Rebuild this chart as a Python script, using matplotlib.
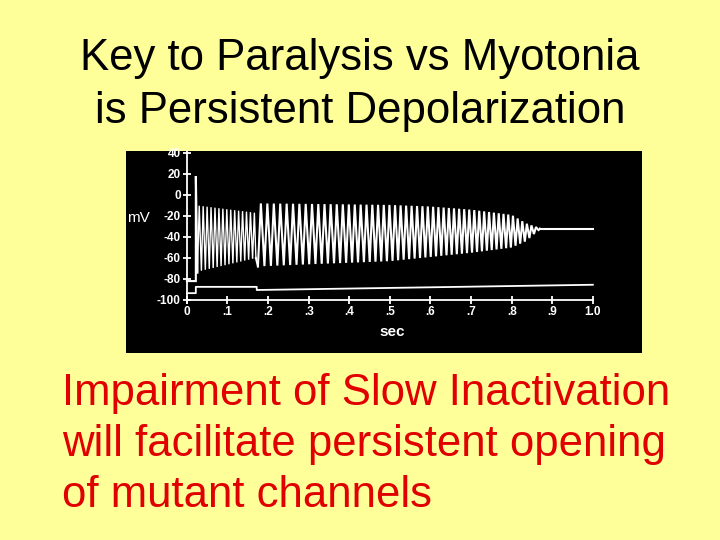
"""Slide: voltage trace of a myotonic fibre drifting into persistent depolarization."""

import matplotlib.pyplot as plt
import numpy as np

plt.rcParams["font.family"] = ["Liberation Sans", "DejaVu Sans"]

BG = "#FFFF99"
RED = "#E00000"

title_lines = ["Key to Paralysis vs Myotonia", "is Persistent Depolarization"]
note_lines = ["Impairment of Slow Inactivation",
              "will facilitate persistent opening",
              "of mutant channels"]

# membrane potential (mV) vs time (sec)
onset_t = [0.0, 0.022, 0.022, 0.026]
onset_v = [-82, -82, 18, -74]

# first burst: fast, small spikes riding on a rising floor
ph1_t = [0.026, 0.17]
ph1_top = [-10, -17]
ph1_bot = [-73, -60]
ph1_period = 0.0097

# second burst: larger spikes that shrink and collapse to a plateau
ph2_t = [0.175, 0.3, 0.5, 0.6, 0.7, 0.8, 0.835, 0.87]
ph2_top = [-8, -8.5, -9.5, -11, -14, -19, -27, -32]
ph2_bot = [-68, -66, -63, -59, -55, -50, -44, -32]
ph2_per_t = [0.175, 0.3, 0.5, 0.7, 0.87]
ph2_per = [0.0160, 0.0155, 0.0138, 0.0123, 0.0110]

tail_t = [0.87, 1.0]
tail_v = [-32, -32]

# stimulus monitor trace
stim_t = [0.0, 0.022, 0.022, 0.172, 0.172, 1.0]
stim_v = [-93.5, -93.5, -87.5, -87.5, -90.5, -85.5]

yticks = [40, 20, 0, -20, -40, -60, -80, -100]
xticks = [0, .1, .2, .3, .4, .5, .6, .7, .8, .9, 1.0]
xlabels = ["0", ".1", ".2", ".3", ".4", ".5", ".6", ".7", ".8", ".9", "1.0"]


def burst(t_knots, top, bot, per_t, per, t_end):
    ts, vs = [], []
    t = t_knots[0]
    while t < t_end:
        p = np.interp(t, per_t, per)
        ts += [t, t + 0.45 * p]
        vs += [np.interp(t, t_knots, bot), np.interp(t + 0.45 * p, t_knots, top)]
        t += p
    ts.append(t_end)
    vs.append(np.interp(t_end, t_knots, bot))
    return ts, vs


fig = plt.figure(figsize=(7.2, 5.4), dpi=100, facecolor=BG)

for i, line in enumerate(title_lines):
    fig.text(0.5, 1 - (70 + 53 * i) / 540, line, ha="center", va="baseline",
             fontsize=31.5, color="black")
for i, line in enumerate(note_lines):
    fig.text(62 / 720, 1 - (405 + 51 * i) / 540, line, ha="left", va="baseline",
             fontsize=31.5, color=RED)

ax = fig.add_axes([126 / 720, 1 - 353 / 540, 516 / 720, 202 / 540])
ax.set_facecolor("black")
ax.set_xlim(-0.150, 1.121)
ax.set_ylim(-150.5, 41.9)

for s in ["top", "right"]:
    ax.spines[s].set_visible(False)
ax.spines["left"].set_position(("data", 0))
ax.spines["left"].set_bounds(-103, 42)
ax.spines["bottom"].set_position(("data", -100))
ax.spines["bottom"].set_bounds(0, 1.0)
for s in ["left", "bottom"]:
    ax.spines[s].set_color("white")
    ax.spines[s].set_linewidth(1.3)

ax.set_yticks(yticks)
ax.set_yticklabels([str(v) for v in yticks])
ax.set_xticks(xticks)
ax.set_xticklabels(xlabels)
ax.tick_params(colors="white", direction="inout", length=6, width=1.3,
               labelsize=8.5, pad=1.5)
for lab in ax.get_xticklabels() + ax.get_yticklabels():
    lab.set_fontweight("bold")

w = dict(color="white", lw=1.5, solid_joinstyle="miter")
ax.plot(onset_t, onset_v, **w)
t1, v1 = burst(ph1_t, ph1_top, ph1_bot, ph1_t, [ph1_period] * 2, ph1_t[1])
ax.plot(t1, v1, color="white", lw=1.0, solid_joinstyle="miter")
ax.plot([t1[-1], ph2_t[0]], [v1[-1], ph2_bot[0]], **w)
t2, v2 = burst(ph2_t, ph2_top, ph2_bot, ph2_per_t, ph2_per, ph2_t[-1])
ax.plot(t2, v2, **w)
ax.plot(tail_t, tail_v, **w)
ax.plot(stim_t, stim_v, color="white", lw=1.3)

ax.text(-0.12, -22, "mV", color="white", fontsize=11, ha="center", va="center")
ax.text(0.505, -130.5, "sec", color="white", fontsize=11, fontweight="bold",
        ha="center", va="center")

fig.savefig("out.png", dpi=100, facecolor=BG)
